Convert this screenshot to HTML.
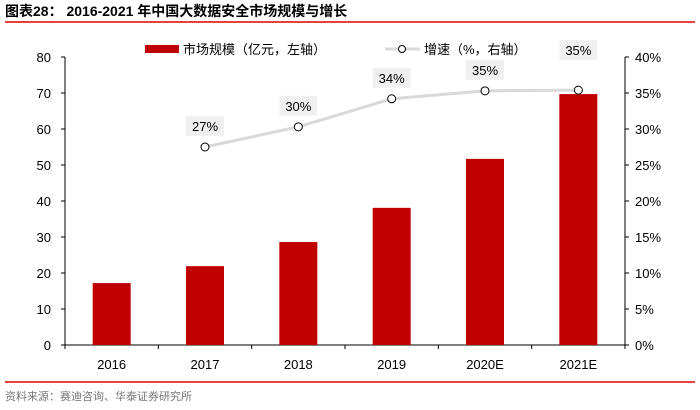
<!DOCTYPE html>
<html><head><meta charset="utf-8"><style>
body{margin:0;background:#fff;}
svg{display:block;font-family:"Liberation Sans","Noto Sans CJK SC",sans-serif;}
</style></head><body>
<svg width="700" height="410" viewBox="0 0 700 410">
<text x="5" y="16" font-size="14" font-weight="bold" fill="#000">图表28： 2016-2021 年中国大数据安全市场规模与增长</text>
<line x1="5" y1="22" x2="695" y2="22" stroke="#e8413a" stroke-width="2"/>
<line x1="5" y1="382" x2="695" y2="382" stroke="#e8413a" stroke-width="2"/>
<text x="5" y="400" font-size="11" fill="#777">资料来源：赛迪咨询、华泰证券研究所</text>
<g id="legend">
<rect x="145" y="45" width="34" height="8" fill="#c00000"/>
<text x="183" y="54" font-size="13">市场规模（亿元，左轴）</text>
<line x1="385" y1="49" x2="420" y2="49" stroke="#d9d9d9" stroke-width="3"/>
<circle cx="402" cy="49" r="3.5" fill="#fff" stroke="#000" stroke-width="1"/>
<text x="424" y="54" font-size="13">增速（%，右轴）</text>
</g>
<g id="plot"></g>
</svg>
<script>
const categories=["2016","2017","2018","2019","2020E","2021E"];
const marketSize=[17.2,21.9,28.6,38.1,51.7,69.7];
const growthPct=[null,27.5,30.3,34.2,35.3,35.4];
const growthLabels=["","27%","30%","34%","35%","35%"];
const leftTicks=[0,10,20,30,40,50,60,70,80];
const rightTicks=[0,5,10,15,20,25,30,35,40];
const NS="http://www.w3.org/2000/svg";
const g=document.getElementById('plot');
const X0=65,X1=625,Y0=345,Y1=57;
const band=(X1-X0)/categories.length;
const xc=i=>X0+band*(i+0.5);
const yL=v=>Y0-(v/80)*(Y0-Y1);
const yR=v=>Y0-(v/40)*(Y0-Y1);
function mk(t,a){const e=document.createElementNS(NS,t);for(const k in a)e.setAttribute(k,a[k]);g.appendChild(e);return e;}
let e;
e=mk('line',{x1:X0,y1:Y1,x2:X0,y2:Y0,stroke:'#000','stroke-width':1});


e=mk('line',{x1:X1,y1:Y1,x2:X1,y2:Y0,stroke:'#000','stroke-width':1});


e=mk('line',{x1:X0,y1:Y0,x2:X1,y2:Y0,stroke:'#000','stroke-width':1});


leftTicks.forEach(v=>{const y=yL(v);
e=mk('line',{x1:X0-4,y1:y,x2:X0,y2:y,stroke:'#000'});


e=mk('text',{x:X0-14,y:y+5,'font-size':13,'text-anchor':'end'});e.textContent=v;

});
rightTicks.forEach(v=>{const y=yR(v);
e=mk('line',{x1:X1,y1:y,x2:X1+4,y2:y,stroke:'#000'});


e=mk('text',{x:X1+10,y:y+5,'font-size':13});e.textContent=v+'%';

});
for(let i=0;i<=categories.length;i++){const x=X0+band*i;
e=mk('line',{x1:x,y1:Y0,x2:x,y2:Y0+4,stroke:'#000'});

}
categories.forEach((c,i)=>{
e=mk('rect',{x:xc(i)-19,y:yL(marketSize[i]),width:38,height:Y0-yL(marketSize[i]),fill:'#c00000'});


e=mk('text',{x:xc(i),y:Y0+24,'font-size':13,'text-anchor':'middle'});e.textContent=c;

});
const pts=[];growthPct.forEach((v,i)=>{if(v!=null)pts.push([xc(i),yR(v)]);});
e=mk('polyline',{points:pts.map(p=>p.join(',')).join(' '),fill:'none',stroke:'#d9d9d9','stroke-width':3});


growthPct.forEach((v,i)=>{if(v==null)return;const x=xc(i),y=yR(v);
const off=(i===categories.length-1)?40:21;
e=mk('circle',{cx:x,cy:y,r:4,fill:'#fff',stroke:'#000','stroke-width':1});


e=mk('rect',{x:x-19,y:y-off-10,width:38,height:20,fill:'#f0f0f0'});


e=mk('text',{x:x,y:y-off+5,'font-size':13,'text-anchor':'middle'});e.textContent=growthLabels[i];

});
</script>
</body></html>
